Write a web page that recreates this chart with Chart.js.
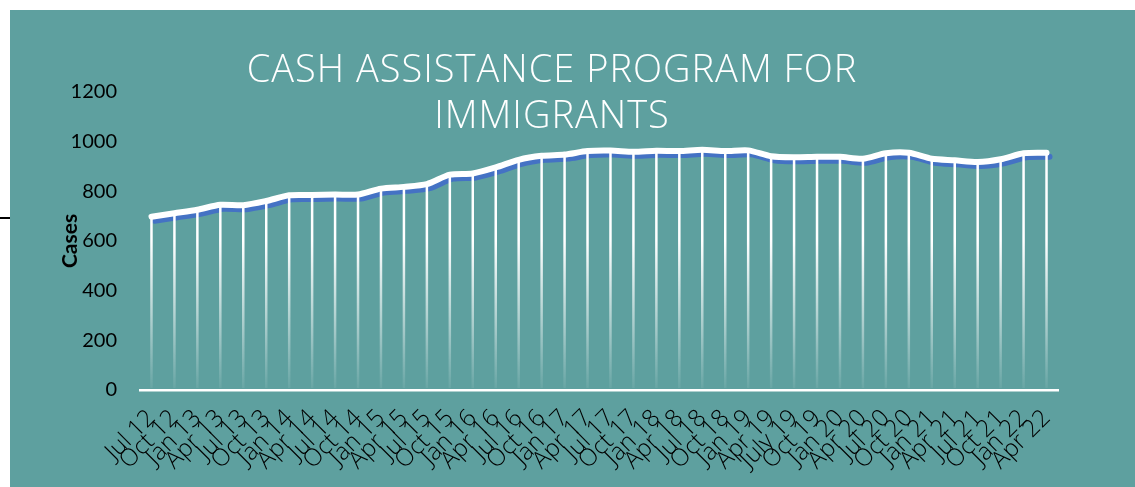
<!DOCTYPE html>
<html>
<head>
<meta charset="utf-8">
<script src="https://cdn.jsdelivr.net/npm/chart.js@4.4.1/dist/chart.umd.min.js"></script>
<style>
  html, body { margin: 0; padding: 0; background: #fff; }
  body { width: 1135px; height: 487px; position: relative; overflow: hidden; }
  #panel { position: absolute; left: 10px; top: 10px; width: 1125px; height: 477px; background: #5ea09f; }
  #mark { position: absolute; left: 0; top: 217px; width: 10px; height: 2px; background: #000; }
  #title {
    position: absolute; left: 152px; top: 44px; width: 800px;
    text-align: center; white-space: nowrap;
    font-family: 'Open Sans', sans-serif; font-weight: 300; font-size: 38px;
    line-height: 46px; letter-spacing: 1px; color: #fff;
  }
</style>
</head>
<body>
<div id="mark"></div>
<div id="panel"><canvas id="caseChart"></canvas></div>
<div id="title">CASH ASSISTANCE PROGRAM FOR<br>IMMIGRANTS</div>
<script>
// Quarterly case counts
const quarters = [
    'Jul 12', 'Oct 12', 'Jan 13', 'Apr 13', 'Jul 13', 'Oct 13', 'Jan 14', 'Apr 14',
    'Jul 14', 'Oct 14', 'Jan 15', 'Apr 15', 'Jul 15', 'Oct 15', 'Jan 16', 'Apr 16',
    'Jul 16', 'Oct 16', 'Jan 17', 'Apr 17', 'Jul 17', 'Oct 17', 'Jan 18', 'Apr 18',
    'Jul 18', 'Oct 18', 'Jan 19', 'Apr 19', 'July 19', 'Oct 19', 'Jan 20', 'Apr 20',
    'Jul 20', 'Oct 20', 'Jan 21', 'Apr 21', 'Jul 21', 'Oct 21', 'Jan 22', 'Apr 22'
];
const cases = [
    698, 712, 726, 746, 744, 761, 784, 785,
    787, 787, 811, 818, 829, 867, 872, 896,
    927, 943, 948, 962, 964, 959, 963, 962,
    967, 962, 965, 941, 937, 939, 939, 931,
    953, 955, 931, 925, 918, 929, 953, 955
];
const yTicks = { min: 0, max: 1200, step: 200 };

// white line with a blue copy offset down/right underneath it
const lineShadow = {
    id: 'lineShadow',
    beforeDatasetDraw(chart) {
        const ctx = chart.ctx;
        ctx.save();
        ctx.shadowColor = '#4472c4';
        ctx.shadowOffsetX = 3;
        ctx.shadowOffsetY = 4;
        ctx.shadowBlur = 0;
    },
    afterDatasetDraw(chart) {
        chart.ctx.restore();
    }
};

// fading white drop lines from each point to the axis
const dropLines = {
    id: 'dropLines',
    afterDatasetsDraw(chart) {
        const ctx = chart.ctx;
        const bottom = chart.chartArea.bottom;
        const top = chart.scales.y.getPixelForValue(600);
        const grad = ctx.createLinearGradient(0, top, 0, bottom);
        grad.addColorStop(0, 'rgba(255,255,255,1)');
        grad.addColorStop(1, 'rgba(255,255,255,0.05)');
        ctx.save();
        ctx.strokeStyle = grad;
        ctx.lineWidth = 2.5;
        chart.getDatasetMeta(0).data.forEach(p => {
            ctx.beginPath();
            ctx.moveTo(p.x, p.y);
            ctx.lineTo(p.x, bottom - 2);
            ctx.stroke();
        });
        ctx.restore();
    }
};

const ctx = document.getElementById('caseChart').getContext('2d');
new Chart(ctx, {
    type: 'line',
    data: {
        labels: quarters,
        datasets: [{
            data: cases,
            borderColor: '#ffffff',
            borderWidth: 6,
            borderCapStyle: 'round',
            borderJoinStyle: 'round',
            pointRadius: 0,
            tension: 0.25,
            fill: false
        }]
    },
    options: {
        responsive: true,
        maintainAspectRatio: false,
        animation: false,
        layout: { padding: { left: 38, top: 82, right: 77, bottom: 0 } },
        plugins: {
            legend: { display: false },
            tooltip: { enabled: false }
        },
        scales: {
            x: {
                offset: true,
                grid: { display: false, drawTicks: false },
                border: { display: true, color: '#ffffff', width: 2.5 },
                ticks: {
                    autoSkip: false,
                    maxRotation: 45,
                    minRotation: 45,
                    padding: 14,
                    color: '#000',
                    font: { family: 'Open Sans', size: 24, weight: 300 }
                },
                afterFit(scale) { scale.height = 97; }
            },
            y: {
                min: yTicks.min,
                max: yTicks.max,
                grid: { display: false, drawTicks: false },
                border: { display: false },
                ticks: {
                    stepSize: yTicks.step,
                    padding: 23,
                    color: '#000',
                    font: { family: 'Lato', size: 20 },
                    callback: v => String(v)
                },
                title: {
                    display: true,
                    text: 'Cases',
                    color: '#000',
                    padding: { top: 10, bottom: 0 },
                    font: { family: 'Lato', size: 21, weight: 'bold' }
                },
                afterFit(scale) { scale.width = 92; }
            }
        }
    },
    plugins: [lineShadow, dropLines]
});
</script>
</body>
</html>
